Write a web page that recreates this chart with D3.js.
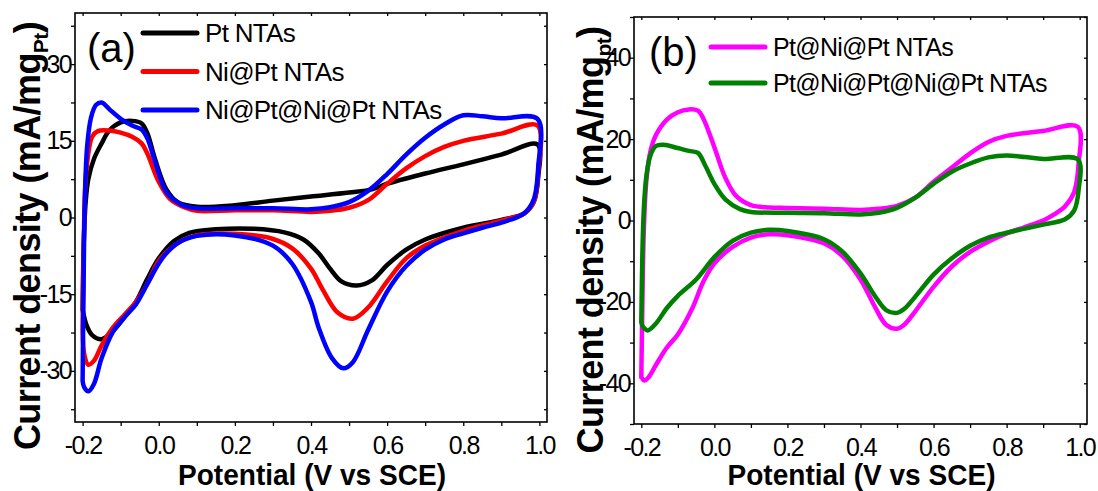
<!DOCTYPE html>
<html>
<head>
<meta charset="utf-8">
<script src="https://cdn.jsdelivr.net/npm/d3@7"></script>
<style>
  body { margin: 0; background: #fff; }
  svg text { font-family: "Liberation Sans", Arial, sans-serif; fill: #000; }
</style>
</head>
<body>
<div id="chart"></div>
<script>
// x ticks shared by both panels
const xMajor = [-0.2, 0.0, 0.2, 0.4, 0.6, 0.8, 1.0];
const xMinor = [-0.1, 0.1, 0.3, 0.5, 0.7, 0.9];

// panel (a)
const yMajorA = [-30, -15, 0, 15, 30];
const yMinorA = [-37.5, -22.5, -7.5, 7.5, 22.5, 37.5];
const seriesA = ["Pt NTAs", "Ni@Pt NTAs", "Ni@Pt@Ni@Pt NTAs"];

// closed CV loops: anodic sweep (left -> right) then cathodic sweep back
const ptNTAs = [
  [-0.2, -18], [-0.197, -5], [-0.192, 3], [-0.185, 7.5], [-0.17, 11.5], [-0.15, 14.5], [-0.13, 17], [-0.1, 18.6],
  [-0.07, 18.9], [-0.045, 18.4], [-0.03, 16.5], [-0.01, 11.5], [0.02, 5.5], [0.05, 3], [0.1, 2.1], [0.2, 2.4],
  [0.3, 3.3], [0.4, 4.1], [0.5, 4.9], [0.56, 5.5], [0.6, 6.6], [0.7, 8.6], [0.8, 10.4], [0.9, 12.3], [0.995, 14.3],
  [0.997, 8], [0.985, 3], [0.96, 0.8], [0.9, -0.5], [0.8, -2], [0.7, -4.3], [0.65, -6.3], [0.6, -9.3], [0.56, -12.3],
  [0.52, -13.3], [0.48, -12.5], [0.45, -10], [0.42, -7], [0.38, -4.3], [0.33, -2.9], [0.25, -2.2], [0.15, -2.3],
  [0.08, -3], [0.04, -4.6], [0.0, -8], [-0.03, -12], [-0.06, -16.5], [-0.09, -19.5], [-0.12, -22.2],
  [-0.15, -23.8], [-0.175, -23], [-0.19, -21], [-0.2, -18]
];
const niPtNTAs = [
  [-0.2, -22], [-0.197, -5], [-0.193, 6], [-0.186, 12], [-0.175, 15.8], [-0.16, 16.9], [-0.13, 17], [-0.1, 16.6],
  [-0.07, 15.8], [-0.045, 14.5], [-0.03, 12.5], [0.0, 7], [0.03, 3.6], [0.07, 1.9], [0.1, 1.3], [0.2, 1.4],
  [0.3, 1.4], [0.4, 1.1], [0.45, 1.3], [0.5, 1.9], [0.55, 3.4], [0.6, 6.6], [0.65, 9.6], [0.7, 12], [0.75, 13.8],
  [0.8, 15], [0.9, 16.4], [0.995, 18],
  [0.997, 9], [0.985, 3], [0.96, 0.8], [0.9, -0.6], [0.8, -2.6], [0.7, -5.5], [0.65, -8], [0.6, -12.5], [0.55, -17.6],
  [0.51, -19.8], [0.47, -18.6], [0.43, -14], [0.4, -10], [0.35, -6], [0.3, -4.2], [0.2, -3.2], [0.1, -3.5],
  [0.05, -5], [0.0, -8.5], [-0.03, -13], [-0.06, -16.5], [-0.09, -19], [-0.12, -21.5], [-0.15, -25],
  [-0.17, -28], [-0.185, -28.8], [-0.195, -27], [-0.2, -22]
];
const niPtNiPtNTAs = [
  [-0.2, -32], [-0.197, -10], [-0.194, 4], [-0.188, 14], [-0.178, 19.5], [-0.165, 22], [-0.15, 22.5],
  [-0.13, 21.2], [-0.1, 19.3], [-0.07, 18], [-0.045, 17.2], [-0.03, 15.5], [-0.01, 11], [0.02, 5], [0.06, 2.5],
  [0.1, 1.8], [0.2, 1.8], [0.3, 1.8], [0.4, 1.6], [0.45, 2], [0.5, 3], [0.55, 5.2], [0.6, 8.5], [0.65, 12.3],
  [0.7, 15.6], [0.75, 18.2], [0.8, 20], [0.85, 19.8], [0.9, 19.4], [0.995, 19.3],
  [0.997, 10], [0.985, 3.5], [0.96, 0.8], [0.9, -1], [0.85, -2], [0.8, -3.1], [0.75, -4.3], [0.7, -6.3],
  [0.65, -9.5], [0.6, -14.5], [0.55, -22], [0.51, -28.3], [0.485, -29.5], [0.455, -27.5], [0.42, -21.5],
  [0.4, -16.5], [0.35, -9], [0.3, -5.5], [0.2, -3.5], [0.1, -3.6], [0.05, -5], [0.02, -7], [0.0, -9],
  [-0.03, -13], [-0.06, -17], [-0.09, -19.5], [-0.12, -22.3], [-0.15, -27.5], [-0.17, -32.5],
  [-0.185, -34], [-0.196, -33.2], [-0.2, -32]
];

// panel (b)
const yMajorB = [-40, -20, 0, 20, 40];
const yMinorB = [-50, -30, -10, 10, 30, 50];
const seriesB = ["Pt@Ni@Pt NTAs", "Pt@Ni@Pt@Ni@Pt NTAs"];

const ptNiPtNTAs = [
  [-0.2, -38.5], [-0.197, -20], [-0.193, -2], [-0.186, 10], [-0.175, 17], [-0.16, 21], [-0.13, 24.8],
  [-0.1, 26.6], [-0.07, 27.3], [-0.045, 27], [-0.03, 25], [0.0, 18], [0.03, 10.5], [0.06, 6], [0.1, 3.8],
  [0.15, 3.2], [0.2, 3.1], [0.3, 2.9], [0.4, 2.6], [0.45, 2.9], [0.5, 3.6], [0.55, 5.6], [0.6, 9.5],
  [0.65, 13], [0.7, 16.5], [0.75, 19.3], [0.8, 20.8], [0.9, 22], [0.995, 23],
  [0.997, 14], [0.985, 7], [0.96, 3.5], [0.93, 1.5], [0.9, 0], [0.85, -1.6], [0.8, -3.2], [0.75, -5.2],
  [0.7, -7.7], [0.65, -11.3], [0.6, -16.3], [0.55, -22.3], [0.52, -25.6], [0.5, -26.6], [0.47, -25.6],
  [0.44, -21.3], [0.4, -14.5], [0.35, -8.7], [0.3, -5.6], [0.2, -3.6], [0.15, -3.4], [0.1, -4.2],
  [0.05, -6.5], [0.0, -10.5], [-0.03, -15], [-0.06, -21.5], [-0.1, -28], [-0.13, -31.2], [-0.16, -35.5],
  [-0.18, -38.5], [-0.192, -39.3], [-0.2, -38.5]
];
const ptNiPtNiPtNTAs = [
  [-0.2, -25], [-0.197, -8], [-0.193, 3], [-0.186, 11], [-0.175, 16], [-0.16, 18.3], [-0.14, 18.6],
  [-0.1, 17.8], [-0.07, 17.1], [-0.045, 16.6], [-0.025, 13.5], [0.0, 9], [0.03, 5.2], [0.07, 2.8],
  [0.1, 2.1], [0.2, 1.9], [0.3, 1.8], [0.4, 1.5], [0.45, 1.9], [0.5, 3.1], [0.55, 5.6], [0.6, 9],
  [0.65, 12], [0.7, 14], [0.75, 15.5], [0.8, 16], [0.85, 15.6], [0.9, 15.1], [0.995, 15],
  [0.997, 7.5], [0.985, 2.5], [0.96, 0.3], [0.9, -1], [0.85, -2], [0.8, -3], [0.75, -4.2], [0.7, -6.2],
  [0.65, -9.3], [0.6, -13.3], [0.55, -18.7], [0.52, -21.7], [0.5, -22.7], [0.47, -22], [0.44, -18.6],
  [0.4, -13], [0.35, -7.6], [0.3, -4.6], [0.2, -2.6], [0.15, -2.3], [0.1, -3], [0.05, -5], [0.0, -9],
  [-0.05, -14.5], [-0.1, -18.5], [-0.13, -21.5], [-0.16, -25.3], [-0.183, -27], [-0.196, -26], [-0.2, -25]
];

const panels = [
  {
    left: 75, right: 547, top: 13, bottom: 422,
    yDomain: [-40, 40], yMajor: yMajorA, yMinor: yMinorA,
    label: "(a)", labelX: 87, labelY: 62,
    titleX: 40, titleY: 236, sub: "Pt",
    loops: [ptNTAs, niPtNTAs, niPtNiPtNTAs],
    names: seriesA, colors: ["#000000", "#ff0000", "#0000ff"],
    legX: 143, legY: 33, legStep: 38.5, legFont: 26
  },
  {
    left: 634, right: 1087, top: 17, bottom: 424,
    yDomain: [-50, 50], yMajor: yMajorB, yMinor: yMinorB,
    label: "(b)", labelX: 649, labelY: 66,
    titleX: 603, titleY: 240, sub: "pt",
    loops: [ptNiPtNTAs, ptNiPtNiPtNTAs],
    names: seriesB, colors: ["#ff00ff", "#008000"],
    legX: 711, legY: 47, legStep: 36, legFont: 25
  }
];

const svg = d3.select("#chart").append("svg")
  .attr("width", 1098)
  .attr("height", 491);

panels.forEach(p => drawPanel(p));

function drawPanel(p) {
  const x = d3.scaleLinear().domain([-0.22, 1.02]).range([p.left, p.right]);
  const y = d3.scaleLinear().domain(p.yDomain).range([p.bottom, p.top]);
  const g = svg.append("g");
  const allX = xMajor.concat(xMinor);
  const allY = p.yMajor.concat(p.yMinor);

  // outward ticks on bottom/left, labelled only on majors
  const bottomAxis = d3.axisBottom(x).tickValues(allX).tickSize(4).tickPadding(10)
    .tickFormat(d => xMajor.includes(d) ? d3.format(".1f")(d).replace("−", "-") : "");
  const leftAxis = d3.axisLeft(y).tickValues(allY).tickSize(4).tickPadding(0)
    .tickFormat(d => p.yMajor.includes(d) ? String(d) : "");

  g.append("g").attr("transform", `translate(0,${p.bottom})`).call(bottomAxis);
  g.append("g").attr("transform", `translate(${p.left},0)`).call(leftAxis);
  // mirrored inward ticks on top/right
  g.append("g").attr("transform", `translate(0,${p.top})`)
    .call(d3.axisBottom(x).tickValues(allX).tickSize(3).tickFormat(""));
  g.append("g").attr("transform", `translate(${p.right},0)`)
    .call(d3.axisLeft(y).tickValues(allY).tickSize(3).tickFormat(""));

  g.selectAll(".domain").remove();
  g.selectAll(".tick line").attr("stroke", "#000").attr("stroke-width", 1.3);
  g.selectAll(".tick text")
    .style("font-family", "'Liberation Sans', Arial, sans-serif")
    .style("font-size", "25px")
    .style("letter-spacing", "-1.6px")
    .attr("fill", "#000");

  g.append("rect")
    .attr("x", p.left).attr("y", p.top)
    .attr("width", p.right - p.left).attr("height", p.bottom - p.top)
    .attr("fill", "none").attr("stroke", "#000").attr("stroke-width", 1.6);

  const line = d3.line()
    .x(d => x(d[0]))
    .y(d => y(d[1]))
    .curve(d3.curveCatmullRom.alpha(0.5));

  p.loops.forEach((loop, i) => {
    g.append("path")
      .attr("d", line(loop))
      .attr("fill", "none")
      .attr("stroke", p.colors[i])
      .attr("stroke-width", 4.5)
      .attr("stroke-linejoin", "round")
      .attr("stroke-linecap", "round");
  });

  // legend
  p.names.forEach((name, i) => {
    const ly = p.legY + i * p.legStep;
    g.append("line")
      .attr("x1", p.legX).attr("x2", p.legX + 54)
      .attr("y1", ly).attr("y2", ly)
      .attr("stroke", p.colors[i]).attr("stroke-width", 5).attr("stroke-linecap", "round");
    g.append("text")
      .attr("x", p.legX + 62).attr("y", ly + 9)
      .style("font-size", p.legFont + "px")
      .style("letter-spacing", "-0.7px")
      .text(name);
  });

  g.append("text")
    .attr("x", p.labelX).attr("y", p.labelY)
    .style("font-size", "40px")
    .text(p.label);

  // axis titles
  g.append("text")
    .attr("x", (p.left + p.right) / 2 + 1)
    .attr("y", 485)
    .attr("text-anchor", "middle")
    .attr("textLength", 268)
    .attr("lengthAdjust", "spacingAndGlyphs")
    .style("font-size", "29px")
    .style("font-weight", "bold")
    .text("Potential (V vs SCE)");

  const yt = g.append("text")
    .attr("transform", `translate(${p.titleX},${p.titleY}) rotate(-90)`)
    .attr("text-anchor", "middle")
    .style("font-size", "36px")
    .style("font-weight", "bold")
    .style("letter-spacing", "-0.6px");
  yt.append("tspan").text("Current density (mA/mg");
  yt.append("tspan").attr("dy", 8).style("font-size", "21px").text(p.sub);
  yt.append("tspan").attr("dy", -8).text(")");
}
</script>
</body>
</html>
